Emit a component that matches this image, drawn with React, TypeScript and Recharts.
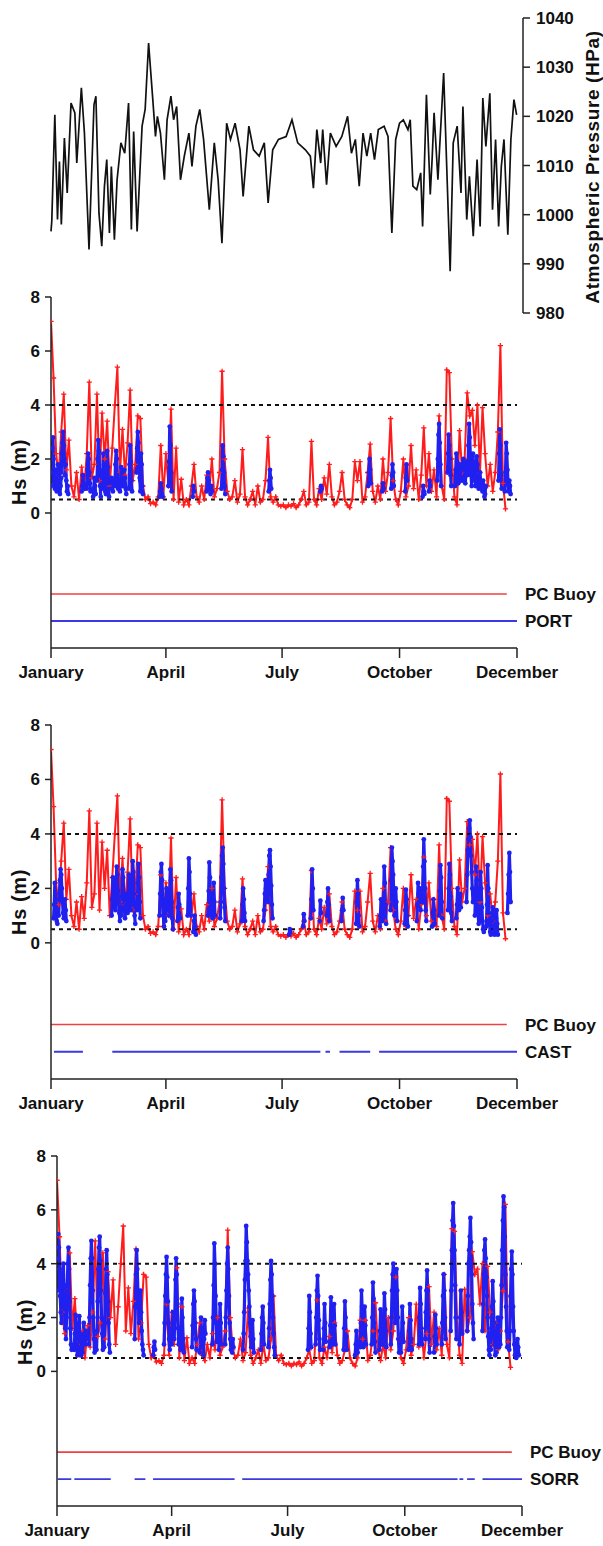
import React from 'react';
import { ComposedChart, LineChart, Line, XAxis, YAxis, ReferenceLine } from 'recharts';

// ---------- data ----------
const monthTicks = [0, 90, 181, 273, 365];
const monthNames: Record<number, string> = { 0: 'January', 90: 'April', 181: 'July', 273: 'October', 365: 'December' };
const hsTicks = [0, 2, 4, 6, 8];
const pressureTicks = [980, 990, 1000, 1010, 1020, 1030, 1040];

// atmospheric pressure (day of year, hPa)
const pressureDays = [0, 0.6, 3, 5.1, 6.6, 8.1, 10.5, 12.7, 15.7, 18.7, 20.2, 23.8, 26.2, 29.8, 33.7, 35.2, 37.6, 39.8, 41.9, 43.7, 45.8, 47.3, 49.7, 51.8, 54.8, 57.8, 60.8, 63, 64.8, 67.5, 71.4, 73.8, 76.5, 79.8, 81.9, 83.4, 85.8, 88.9, 91, 94, 96.1, 98.5, 101.5, 104.5, 108.1, 110.5, 113.6, 116.6, 119.6, 124.1, 128, 131, 134, 137.7, 140.7, 144.3, 148.2, 150.6, 155.1, 158.7, 163.2, 167.2, 170.2, 173.8, 178.3, 184.3, 188.9, 193.4, 199.4, 203.3, 205.7, 208.4, 211.4, 213, 216, 219, 223.5, 228, 232.5, 235.5, 238.6, 241.6, 244.6, 247.6, 250.6, 253.6, 256.6, 261.1, 264.2, 267.2, 270.2, 273.2, 276.2, 279.8, 281.6, 283.7, 286.7, 289.8, 291.3, 294.3, 297.3, 298.8, 300.3, 303.3, 307.8, 310.2, 312.9, 315.3, 318.4, 321.4, 322.9, 325.9, 328, 331, 334, 336.4, 338.5, 340.9, 344, 346.1, 348.5, 350.9, 353, 355.1, 358.1, 360.5, 362.9, 365];
const pressureHpa = [996.6, 998.6, 1020.3, 999, 1010.8, 998, 1015.6, 1004.4, 1022.7, 1020.7, 1010.5, 1025.8, 1016.6, 992.9, 1022.4, 1024.1, 1000.3, 993.6, 1005.8, 1011.2, 996.3, 1009.8, 994.9, 1007.1, 1014.6, 1012.5, 1022.7, 997, 1016.9, 996.6, 1018, 1021.4, 1034.9, 1023.4, 1015.9, 1020, 1016.6, 1007.1, 1019.3, 1024.1, 1019.3, 1022, 1007.1, 1011.9, 1016.6, 1009.8, 1018, 1021.4, 1015.3, 1001, 1014.6, 1007.1, 994.2, 1018.6, 1015.3, 1018.6, 1013.2, 1003.7, 1018, 1013.2, 1011.9, 1014.6, 1002.4, 1013.2, 1015.3, 1015.9, 1019.3, 1014.6, 1013.2, 1011.9, 1005.4, 1017.3, 1010.5, 1017.3, 1006.1, 1016.6, 1013.9, 1015.9, 1020, 1012.5, 1015.3, 1005.8, 1016.6, 1011.9, 1016.6, 1011.2, 1017.3, 1018, 1015.9, 996.3, 1015.3, 1018.6, 1019.3, 1017.3, 1019.3, 1005.8, 1005.1, 1008.5, 997.6, 1024.4, 1004.1, 1011.5, 1020.7, 1007.1, 1028.8, 1009.8, 988.5, 1014.6, 1018, 1004.4, 1022, 999, 1007.8, 995.6, 1011.2, 997.6, 1023.7, 1013.9, 1024.7, 1001, 1015.3, 997.6, 1009.8, 1015.3, 995.9, 1015.3, 1023.4, 1020.3];

// PC Buoy Hs (m), one value every 2 days from 1 January
const BUOY_STEP = 2;
const buoyHs = [
  7.1, 5.0, 2.2, 1.4, 3.0, 4.4, 1.6, 2.7, 1.0, 0.6, 1.5, 0.5, 1.7, 0.9, 2.2, 4.85, 1.3, 1.8, 4.4, 1.2,
  3.7, 2.0, 3.4, 1.0, 2.4, 4.0, 5.4, 1.5, 3.1, 1.4, 2.6, 4.55, 1.2, 1.8, 3.6, 3.5, 1.0, 0.5, 0.6, 0.35,
  0.4, 0.3, 0.6, 2.5, 0.6, 2.2, 1.0, 3.85, 0.5, 2.4, 0.4, 1.25, 0.3, 0.5, 0.3, 1.0, 1.8, 0.6, 0.4, 1.0,
  0.5, 1.4, 0.8, 2.0, 0.6, 0.9, 1.5, 5.25, 2.0, 0.8, 0.5, 0.6, 1.2, 0.4, 0.7, 2.35, 0.6, 0.3, 0.5, 0.8,
  0.3, 1.0, 0.4, 0.5, 1.2, 2.8, 0.6, 0.4, 0.6, 0.3, 0.25, 0.3, 0.2, 0.3, 0.25, 0.35, 0.2, 0.3, 0.5, 0.8,
  0.3, 0.4, 2.65, 0.5, 0.3, 0.9, 0.5, 1.3, 0.7, 1.8, 0.6, 0.3, 0.4, 0.8, 1.5, 0.5, 0.3, 0.2, 0.5, 1.9,
  1.2, 1.9, 0.4, 0.6, 1.5, 2.55, 0.8, 0.4, 1.0, 0.5, 2.0, 0.8, 1.5, 3.5, 1.2, 0.5, 0.3, 0.8, 2.0, 0.6,
  1.0, 2.5, 0.9, 1.6, 0.5, 1.4, 3.15, 1.0, 2.2, 0.8, 1.6, 0.6, 3.6, 1.0, 0.5, 5.3, 5.2, 2.0, 0.6, 0.3,
  3.05, 1.5, 2.0, 4.45, 3.6, 3.8, 2.5, 4.0, 1.5, 3.9, 2.2, 1.0, 1.8, 0.8, 1.5, 3.0, 6.2, 1.1, 0.15,
];

// model runs: [first day, Hs values every half day]
const BURST_STEP = 0.5;
const portBursts: [number, number[]][] = [
  [0, [1.0, 1.5, 2.4, 2.8, 2.0, 1.2, 0.9, 1.6, 1.1, 0.8]],
  [5, [1.2, 1.8, 1.4, 0.9, 0.7, 1.0, 1.3]],
  [8, [1.5, 2.2, 2.6, 3.0, 2.5, 2.0, 1.4, 1.8, 1.2, 0.8, 1.0, 0.7]],
  [24, [0.8, 1.0, 1.4, 1.1, 0.9]],
  [28, [0.9, 1.6, 2.2, 2.0, 1.5, 1.1, 0.8]],
  [33, [0.6, 0.9, 1.3, 1.0, 0.7]],
  [36, [1.2, 2.0, 2.7, 2.3, 1.6, 1.0, 0.6]],
  [40, [0.9, 1.5, 2.2, 1.8, 1.2, 0.8]],
  [43, [0.7, 1.2, 2.3, 1.7, 1.1, 0.6]],
  [47, [0.9, 1.3, 1.1, 0.8]],
  [50, [1.0, 1.8, 2.3, 2.0, 1.4, 0.9]],
  [54, [0.8, 1.2, 1.7, 1.5, 1.0]],
  [57, [1.1, 1.6, 1.3, 0.9, 0.7]],
  [61, [0.9, 1.8, 2.5, 1.9, 1.2, 0.8]],
  [67, [1.5, 2.4, 3.0, 2.6, 2.0, 1.3, 0.8]],
  [70, [1.2, 2.2, 1.8, 1.0, 0.7]],
  [85, [0.6, 0.8, 1.1, 0.9, 0.7, 0.6]],
  [92, [1.0, 1.9, 3.2, 2.5, 1.5, 0.8]],
  [111, [0.6, 1.0, 0.8]],
  [122, [0.8, 1.3, 1.5, 1.2, 0.9]],
  [125, [0.7, 1.0, 0.8]],
  [133.5, [0.9, 1.6, 2.5, 2.1, 1.5, 1.0, 0.7]],
  [170.5, [0.8, 1.2, 1.6, 1.3, 0.9]],
  [211, [0.8, 1.0, 0.9]],
  [248.5, [1.0, 1.5, 2.0, 1.6, 1.1]],
  [259.5, [0.8, 1.1, 0.9]],
  [266.5, [0.9, 1.4, 1.8, 1.5, 1.0]],
  [277.5, [0.8, 1.3, 1.8, 1.2]],
  [291, [0.6, 1.0, 0.8, 0.7]],
  [296, [0.8, 1.2, 1.0]],
  [302.5, [1.2, 2.0, 2.9, 3.3, 2.6, 1.8, 1.0]],
  [310.5, [1.5, 2.2, 2.9, 2.5, 2.0, 1.4, 1.0]],
  [316.5, [1.0, 1.6, 2.2, 1.9, 1.4, 1.1, 1.3, 1.8, 1.5, 1.2]],
  [322, [1.2, 1.8, 2.0, 1.6, 1.3, 1.1, 1.5, 1.9, 1.4]],
  [326.5, [1.5, 2.5, 3.3, 2.8, 2.0, 1.4, 1.0, 1.6, 2.2, 1.8, 1.2]],
  [332.5, [1.0, 1.6, 2.1, 1.8, 1.3, 0.9, 1.1, 1.5, 1.2, 0.9]],
  [338, [0.8, 1.2, 0.9, 0.6, 0.7, 1.0]],
  [350.5, [1.2, 2.2, 3.1, 2.5, 1.4, 0.9]],
  [355.5, [0.8, 1.5, 2.6, 2.2, 1.6, 1.1, 0.8, 1.2, 1.0, 0.7]],
];

const castBursts: [number, number[]][] = [
  [2, [0.9, 1.4, 2.2, 1.8, 1.2, 0.8, 0.7]],
  [6, [1.0, 1.6, 2.3, 2.7, 2.5, 2.0, 1.5, 1.1, 0.9, 1.3, 1.6, 1.2, 0.8]],
  [47.5, [1.0, 1.6, 2.4, 2.2, 1.8, 1.3]],
  [50.5, [1.2, 2.0, 2.8, 2.5, 1.9, 1.5, 1.1, 0.8]],
  [55, [1.0, 1.7, 2.7, 2.4, 1.6, 1.2, 0.9, 1.4, 1.8, 1.3]],
  [60, [1.1, 1.8, 2.5, 2.2, 1.6, 1.2]],
  [63, [1.4, 2.3, 3.0, 2.6, 1.8, 1.0, 0.7]],
  [67.5, [1.2, 2.2, 2.9, 2.4, 1.5, 0.9]],
  [85, [1.0, 1.8, 2.6, 2.9, 2.3, 1.6, 1.0, 0.6]],
  [89.5, [0.8, 1.5, 2.0, 1.6, 1.2]],
  [92.5, [1.0, 1.8, 2.7, 2.3, 1.5, 0.9, 0.5]],
  [99, [0.8, 1.3, 1.8, 1.4, 0.9]],
  [107, [1.0, 2.0, 3.1, 2.6, 1.8, 1.0]],
  [111.5, [0.4, 0.8, 1.0, 0.6, 0.3]],
  [123, [1.0, 1.9, 2.95, 2.4, 1.6, 1.0]],
  [126.5, [0.9, 1.6, 2.2, 1.5, 1.0]],
  [132.5, [0.9, 1.5, 2.4, 3.2, 3.5, 2.9, 2.0, 1.3, 0.8]],
  [149.5, [0.8, 1.4, 2.0, 1.6, 1.1, 0.8]],
  [166.5, [0.8, 1.2, 1.8, 2.3, 2.0, 1.6]],
  [170, [1.5, 2.5, 3.2, 3.4, 2.8, 2.1, 1.4, 0.9]],
  [186.5, [0.3, 0.5, 0.4]],
  [197.5, [0.6, 1.05, 0.8]],
  [203.5, [0.9, 1.6, 2.7, 2.0, 1.2]],
  [210.5, [0.8, 1.55, 1.1]],
  [216, [1.0, 1.5, 2.0, 1.4, 0.8]],
  [227.5, [0.8, 1.2, 1.65, 1.2]],
  [239, [0.7, 1.5, 2.3, 1.8, 1.0, 0.6]],
  [257.5, [0.6, 1.0, 1.6, 1.2, 0.8]],
  [260, [0.9, 1.6, 2.8, 2.2, 1.4, 0.7]],
  [266, [1.2, 2.3, 3.5, 3.0, 2.5, 1.8, 1.0, 1.4, 2.0, 1.5, 0.8]],
  [277, [0.7, 1.2, 1.95, 1.6, 1.0, 0.6]],
  [286.5, [0.8, 1.4, 2.2, 1.8, 1.5, 2.0, 1.2]],
  [291, [1.5, 2.8, 3.8, 3.0, 2.0, 1.2, 0.8]],
  [298.5, [0.6, 1.1, 1.6, 1.2, 0.7]],
  [304, [1.0, 1.9, 2.85, 2.4, 1.5, 0.9]],
  [311, [1.2, 2.0, 2.9, 2.5, 1.7, 1.1, 0.8]],
  [317.5, [0.9, 1.4, 2.0, 1.6, 1.2, 1.5, 1.8, 1.3]],
  [325.5, [1.5, 2.5, 3.4, 3.8, 4.2, 4.5, 3.9, 3.2, 2.6, 2.0, 1.5]],
  [332, [1.0, 1.8, 2.8, 2.3, 1.6, 1.1, 0.7]],
  [335.5, [0.8, 1.6, 2.6, 2.0, 1.3, 0.8, 0.5, 0.4]],
  [341, [0.6, 1.4, 2.85, 2.0, 1.1, 0.7, 0.4, 0.3]],
  [345, [0.4, 0.8, 1.3, 1.0, 0.6, 0.3, 0.5, 0.9, 1.2, 0.7, 0.3]],
  [357.5, [1.1, 1.8, 2.5, 3.3, 2.6, 1.5]],
];

const sorrBursts: [number, number[]][] = [
  [0, [3.0, 4.2, 5.1, 4.6, 3.8, 2.8, 2.2, 1.8, 2.5, 3.6, 4.0, 3.2, 2.4, 1.6]],
  [7, [1.2, 2.0, 3.0, 4.0, 4.6, 3.8, 2.6, 1.6, 1.0, 0.8]],
  [13.5, [0.8, 1.4, 2.1, 1.6, 1.0, 0.6, 0.9, 1.5, 2.05, 1.4, 0.8, 0.6]],
  [20, [0.7, 1.2, 1.8, 1.4, 1.0, 1.5, 1.2]],
  [25, [1.0, 2.0, 3.2, 4.2, 4.85, 4.2, 3.0, 2.0, 1.2, 0.7]],
  [31, [0.8, 1.5, 2.6, 3.8, 4.6, 5.0, 4.1, 3.0, 2.0, 1.4, 0.8]],
  [37, [0.9, 1.8, 2.9, 3.8, 4.5, 3.6, 2.6, 1.8, 1.0, 0.7]],
  [61, [1.2, 2.4, 3.6, 4.5, 3.8, 3.0, 2.4, 1.8, 2.6, 3.0, 2.2, 1.5, 1.0, 0.8, 0.6]],
  [75.5, [0.6, 0.9, 1.1, 0.8]],
  [84, [1.0, 1.8, 2.8, 3.6, 4.25, 3.5, 2.6, 1.8, 1.2, 0.8]],
  [90, [1.0, 1.6, 2.2, 1.8]],
  [92, [1.2, 2.2, 3.4, 4.2, 3.6, 2.5, 1.6, 1.0]],
  [97, [0.8, 1.6, 2.7, 2.0, 1.2, 0.7]],
  [106, [0.9, 1.7, 2.5, 3.0, 2.6, 1.8, 1.2, 0.8]],
  [112, [0.7, 1.3, 2.0, 1.5, 0.9]],
  [115, [0.6, 1.2, 1.9, 1.4]],
  [122, [1.0, 2.0, 3.2, 4.75, 4.0, 2.8, 1.8, 1.1]],
  [127, [0.8, 1.6, 2.5, 1.8, 1.0]],
  [132, [1.0, 2.0, 3.0, 4.0, 4.6, 3.8, 2.8, 1.8, 1.2, 0.8]],
  [137.5, [0.7, 1.2, 0.9]],
  [146, [0.8, 1.4, 2.2, 3.4, 4.1, 5.4, 4.8, 4.1, 3.6, 3.0, 2.4, 1.8, 1.3, 0.9, 1.4, 1.9, 1.2, 0.7]],
  [160, [0.8, 1.4, 2.0, 2.4, 1.8, 1.0]],
  [166, [0.9, 1.6, 2.5, 3.4, 4.1, 3.6, 2.8, 2.0, 1.4, 0.9, 0.6]],
  [197, [0.8, 1.6, 2.8, 2.2, 1.4, 0.9]],
  [203, [1.0, 2.0, 3.0, 3.55, 2.8, 1.9, 1.2, 0.8]],
  [209, [0.8, 1.6, 2.5, 1.8, 1.1]],
  [214, [0.9, 1.7, 2.75, 2.2, 1.5, 1.0, 1.6, 2.5, 1.7, 1.0]],
  [225, [0.8, 1.6, 2.6, 2.0, 1.3, 0.8]],
  [234, [0.6, 1.0, 1.5, 1.1, 0.7]],
  [238, [0.9, 1.8, 3.0, 2.4, 1.5, 0.9, 1.4, 2.4, 1.7, 1.0]],
  [247, [1.0, 2.0, 3.3, 2.7, 1.8, 1.1, 0.7]],
  [253, [0.8, 1.5, 2.3, 1.7, 1.0]],
  [256, [1.0, 1.9, 2.9, 2.3, 1.5, 0.9]],
  [262, [1.0, 2.0, 3.0, 3.6, 4.0, 3.2, 2.4, 1.8, 2.6, 3.8, 3.0, 2.0, 1.2, 0.7]],
  [270, [0.7, 1.4, 2.4, 1.8, 1.1]],
  [276, [0.8, 1.5, 2.5, 1.9, 1.2, 0.8]],
  [284, [1.0, 2.0, 3.1, 2.5, 1.6, 1.0]],
  [289, [1.2, 2.2, 3.0, 3.75, 3.0, 2.0, 1.2, 0.7]],
  [296, [0.7, 1.3, 2.1, 1.6, 1.0]],
  [302, [1.0, 1.8, 2.8, 3.6, 3.0, 2.0, 1.2]],
  [309, [1.5, 3.0, 4.5, 5.6, 6.25, 5.4, 4.5, 3.2, 2.0, 1.2]],
  [316, [1.0, 2.0, 3.0, 2.2, 1.4]],
  [322, [1.5, 2.8, 4.0, 4.5, 5.0, 5.7, 4.8, 3.6, 2.5, 1.8, 1.2]],
  [334, [1.5, 2.5, 3.6, 4.5, 4.9, 4.2, 3.5, 2.8, 2.0, 1.3, 0.8, 0.6]],
  [340.5, [0.8, 1.6, 2.4, 3.35, 2.6, 1.8, 1.0, 0.6]],
  [345, [0.7, 1.2, 2.0, 1.5, 0.9]],
  [348, [1.0, 2.0, 3.2, 4.5, 5.6, 6.5, 6.1, 5.0, 3.6, 2.4, 1.5, 0.9]],
  [355, [0.8, 1.5, 2.8, 3.8, 4.45, 3.6, 2.4, 1.5, 1.0, 0.6]],
  [360.5, [0.5, 0.8, 1.2, 0.9, 0.6]],
];

// data availability periods [start day, end day]
const buoyAvail: [number, number][] = [[0, 357]];
const portAvail: [number, number][] = [[0, 365]];
const castAvail: [number, number][] = [[2.3, 25], [48, 211], [215, 218.5], [226, 250], [257, 365]];
const sorrAvail: [number, number][] = [[0.6, 11.2], [13.6, 42.2], [60.9, 69.4], [75.4, 139.4], [145.4, 314.4], [315.9, 318.9], [321.9, 327.9], [334, 365]];

// ---------- helpers ----------
const RED = '#ff1c1c';
const BLUE = '#2020f0';
const AXIS = '#222';
const FONT = '"Liberation Sans", Arial, Helvetica, sans-serif';

const pressureData = pressureDays.map((d, i) => ({ x: d, y: pressureHpa[i] }));
const buoyData = buoyHs.map((v, i) => ({ x: i * BUOY_STEP, y: v }));
// each run is its own trace; a null between runs breaks the trace
const toRuns = (bursts: [number, number[]][]) =>
  bursts.flatMap(([d, vs]) => [
    ...vs.map((v, i) => ({ x: d + i * BURST_STEP, y: v as number | null })),
    { x: d + (vs.length - 1) * BURST_STEP, y: null },
  ]);
const toSegments = (segs: [number, number][], level: number) =>
  segs.flatMap(([a, b]) => [{ x: a, y: level as number | null }, { x: b, y: level }, { x: b, y: null }]);

const tickStyle = { fill: '#111', fontSize: 17, fontWeight: 700, fontFamily: FONT };

const Cross = (p: any) => {
  if (p.cx == null || p.cy == null) return <g key={p.index} />;
  return (
    <path key={p.index} d={`M${p.cx - 2.6},${p.cy}h5.2M${p.cx},${p.cy - 2.6}v5.2`} stroke={RED} strokeWidth={1.3} />
  );
};
const Dot = (p: any) => {
  if (p.cx == null || p.cy == null || p.value == null) return <g key={p.index} />;
  return <circle key={p.index} cx={p.cx} cy={p.cy} r={2.4} fill={BLUE} />;
};

const VLabel = ({ cx, cy, text, size }: { cx: number; cy: number; text: string; size: number }) => (
  <div
    style={{
      position: 'absolute', left: cx, top: cy, transform: 'translate(-50%, -50%) rotate(-90deg)',
      whiteSpace: 'nowrap', fontFamily: FONT, fontWeight: 700, fontSize: size, color: '#111', lineHeight: 1,
      letterSpacing: 0.6,
    }}
  >
    {text}
  </div>
);

interface PanelProps {
  top: number;
  height: number;
  axisX: number;
  plotRight: number;
  runs: { x: number; y: number | null }[];
  avail: [number, number][];
  model: string;
}

const Panel = ({ top, height, axisX, plotRight, runs, avail, model }: PanelProps) => (
  <div style={{ position: 'absolute', left: 0, top, width: 603, height }}>
    <ComposedChart width={603} height={height} margin={{ top: 17, right: 603 - plotRight, bottom: 0, left: 0 }}>
      <XAxis
        type="number" dataKey="x" domain={[0, 365]} ticks={monthTicks} tickFormatter={(v) => monthNames[v] ?? ''}
        height={40} tickSize={10} tickMargin={8} tick={tickStyle} stroke={AXIS} strokeWidth={1.5} allowDataOverflow
      />
      <YAxis
        type="number" domain={[-5, 8]} ticks={hsTicks} width={axisX} tickSize={6} tickMargin={5}
        tick={tickStyle} stroke={AXIS} strokeWidth={1.5} allowDataOverflow
      />
      <Line data={buoyData} dataKey="y" stroke={RED} strokeWidth={2} dot={Cross} isAnimationActive={false} />
      <Line data={runs} dataKey="y" stroke={BLUE} strokeWidth={3.2} dot={Dot} connectNulls={false} isAnimationActive={false} />
      <Line data={toSegments(buoyAvail, -3)} dataKey="y" stroke="#f04040" strokeWidth={1.6} dot={false} connectNulls={false} isAnimationActive={false} />
      <Line data={toSegments(avail, -4)} dataKey="y" stroke="#3a3ae0" strokeWidth={1.8} dot={false} connectNulls={false} isAnimationActive={false} />
      <ReferenceLine y={4} stroke="#111" strokeWidth={2} strokeDasharray="4 4" />
      <ReferenceLine y={0.5} stroke="#111" strokeWidth={2} strokeDasharray="4 4" />
      <ReferenceLine y={-3} strokeOpacity={0} label={{ value: 'PC Buoy', position: 'right', offset: 8, ...tickStyle }} />
      <ReferenceLine y={-4} strokeOpacity={0} label={{ value: model, position: 'right', offset: 8, ...tickStyle }} />
    </ComposedChart>
  </div>
);

export default function App() {
  return (
    <div style={{ position: 'absolute', left: 0, top: 0, width: 603, height: 1546, background: '#fff', overflow: 'hidden' }}>
      <div style={{ position: 'absolute', left: 0, top: 0, width: 603, height: 330 }}>
        <LineChart width={603} height={330} margin={{ top: 18, right: 0, bottom: 17, left: 51 }}>
          <XAxis type="number" dataKey="x" domain={[0, 370]} hide />
          <YAxis
            orientation="right" type="number" domain={[980, 1040]} ticks={pressureTicks} width={80}
            tickSize={7} tickMargin={6} tick={tickStyle} stroke={AXIS} strokeWidth={1.5}
          />
          <Line data={pressureData} dataKey="y" stroke="#111" strokeWidth={1.7} dot={false} isAnimationActive={false} />
        </LineChart>
      </div>
      <VLabel cx={592} cy={167} text="Atmospheric Pressure (HPa)" size={19} />

      <Panel top={280} height={408} axisX={51} plotRight={517} runs={toRuns(portBursts)} avail={portAvail} model="PORT" />
      <VLabel cx={19} cy={472} text="Hs (m)" size={20} />

      <Panel top={708} height={411} axisX={51} plotRight={517} runs={toRuns(castBursts)} avail={castAvail} model="CAST" />
      <VLabel cx={19} cy={902} text="Hs (m)" size={20} />

      <Panel top={1139} height={407} axisX={57} plotRight={522} runs={toRuns(sorrBursts)} avail={sorrAvail} model="SORR" />
      <VLabel cx={25} cy={1332} text="Hs (m)" size={20} />
    </div>
  );
}
